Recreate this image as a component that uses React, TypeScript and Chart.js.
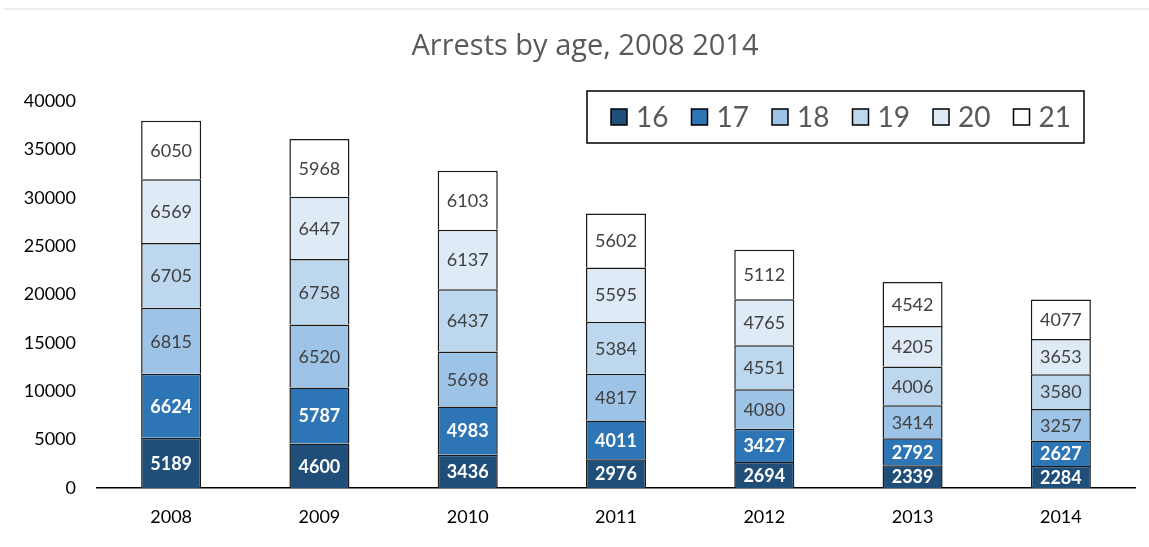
import React, { useEffect, useRef } from "react";
import { Chart, registerables } from "chart.js";

Chart.register(...registerables);

const years = ["2008", "2009", "2010", "2011", "2012", "2013", "2014"];
const ageLabels = ["16", "17", "18", "19", "20", "21"];
const age16 = [5189, 4600, 3436, 2976, 2694, 2339, 2284];
const age17 = [6624, 5787, 4983, 4011, 3427, 2792, 2627];
const age18 = [6815, 6520, 5698, 4817, 4080, 3414, 3257];
const age19 = [6705, 6758, 6437, 5384, 4551, 4006, 3580];
const age20 = [6569, 6447, 6137, 5595, 4765, 4205, 3653];
const age21 = [6050, 5968, 6103, 5602, 5112, 4542, 4077];
const colors = ["#1F4E79", "#2E75B6", "#9DC3E6", "#BDD7EE", "#DEEBF7", "#FFFFFF"];
const titleText = "Arrests by age, 2008 2014";

const FONT = "Lato, 'Open Sans', sans-serif";
const TITLE_FONT = "'Open Sans', Lato, sans-serif";

const labelPlugin = {
  id: "segLabels",
  afterDatasetsDraw(chart: any) {
    const ctx = chart.ctx;
    ctx.save();
    chart.data.datasets.forEach((ds: any, di: number) => {
      const meta = chart.getDatasetMeta(di);
      meta.data.forEach((bar: any, i: number) => {
        const y = (bar.y + bar.base) / 2;
        ctx.font = (di < 2 ? "bold " : "") + "18px " + FONT;
        ctx.fillStyle = di < 2 ? "#FFFFFF" : "#404040";
        ctx.textAlign = "center";
        ctx.textBaseline = "middle";
        ctx.fillText(String(ds.data[i]), bar.x, y + 1);
      });
    });
    ctx.restore();
  },
};

const decorPlugin = {
  id: "decor",
  afterDraw(chart: any) {
    const ctx = chart.ctx;
    ctx.save();
    ctx.strokeStyle = "#E6E6E6";
    ctx.lineWidth = 1.5;
    ctx.beginPath();
    ctx.moveTo(4, 9);
    ctx.lineTo(1149, 9);
    ctx.stroke();

    // title
    ctx.font = "29px " + TITLE_FONT;
    ctx.fillStyle = "#595959";
    ctx.textAlign = "center";
    ctx.textBaseline = "middle";
    ctx.fillText(titleText, 585, 47);

    // legend
    const left = 587, top = 91, w = 497, h = 52;
    ctx.strokeStyle = "#000000";
    ctx.lineWidth = 1.5;
    ctx.strokeRect(left, top, w, h);
    ctx.font = "28px " + FONT;
    ctx.textBaseline = "middle";
    ctx.textAlign = "left";
    const cy = top + h / 2;
    let x = left + 24;
    chart.data.datasets.forEach((ds: any) => {
      ctx.fillStyle = ds.backgroundColor;
      ctx.fillRect(x, cy - 8, 16, 16);
      ctx.strokeStyle = "#000";
      ctx.lineWidth = 1.5;
      ctx.strokeRect(x, cy - 8, 16, 16);
      ctx.fillStyle = "#595959";
      ctx.fillText(ds.label, x + 25, cy + 1);
      x += 80.5;
    });
    ctx.restore();
  },
};

export default function App() {
  const ref = useRef<HTMLCanvasElement>(null);
  useEffect(() => {
    document.body.style.margin = "0";
    const series = [age16, age17, age18, age19, age20, age21];
    const chart = new Chart(ref.current!, {
      type: "bar",
      data: {
        labels: years,
        datasets: series.map((d, i) => ({
          label: ageLabels[i],
          data: d,
          backgroundColor: colors[i],
          borderColor: "#1A1A1A",
          borderWidth: 1.5,
          categoryPercentage: 1,
          barPercentage: 0.405,
        })),
      },
      options: {
        animation: false,
        responsive: false,
        devicePixelRatio: 1,
        layout: { padding: { left: 0, right: 14, top: 101, bottom: 0 } },
        plugins: {
          legend: { display: false },
          tooltip: { enabled: false },
          title: { display: false },
        },
        scales: {
          x: {
            stacked: true,
            grid: { display: false, drawTicks: false },
            border: { display: true, color: "#000", width: 1.5 },
            ticks: { color: "#000", font: { family: FONT, size: 18 }, padding: 18 },
            afterFit(s: any) { s.height = 59; },
          },
          y: {
            stacked: true,
            min: 0,
            max: 40000,
            grid: { display: false, drawTicks: false },
            border: { display: false },
            ticks: {
              stepSize: 5000,
              color: "#000",
              font: { family: FONT, size: 18 },
              padding: 21,
              callback: (v: any) => String(v),
            },
            afterFit(s: any) { s.width = 97; },
          },
        },
      },
      plugins: [labelPlugin, decorPlugin],
    });
    return () => chart.destroy();
  }, []);
  return <canvas ref={ref} width={1149} height={547} style={{ display: "block" }} />;
}
